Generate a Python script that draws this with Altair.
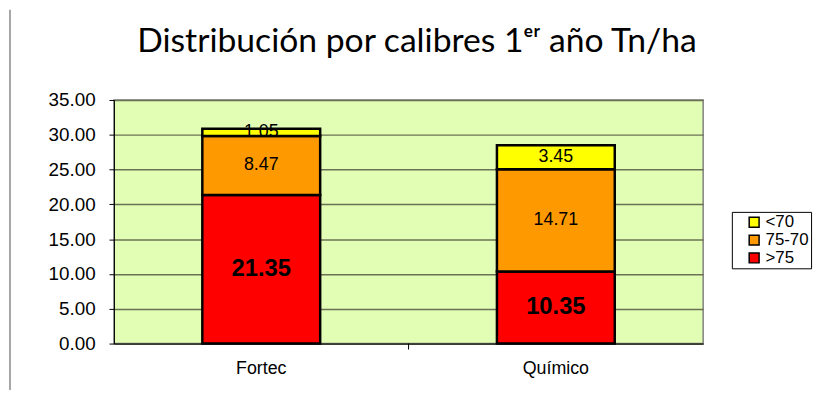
import altair as alt
import pandas as pd

categories = ["Fortec", "Químico"]
classes = [">75", "75-70", "<70"]
values_fortec = [21.35, 8.47, 1.05]
values_quimico = [10.35, 14.71, 3.45]
legend_order = ["<70", "75-70", ">75"]
colors = ["#FFFF00", "#FF9900", "#FF0000"]
y_ticks = [0, 5, 10, 15, 20, 25, 30, 35]
title_text = "Distribución por calibres 1ᵉʳ año Tn/ha"

rows = []
for cat, vals in zip(categories, [values_fortec, values_quimico]):
    for i, (cl, v) in enumerate(zip(classes, vals)):
        rows.append({"cat": cat, "cls": cl, "value": v, "ord": i})
df = pd.DataFrame(rows)

base = alt.Chart(df).transform_stack(
    stack="value", groupby=["cat"], as_=["y0", "y1"], sort=[alt.SortField("ord")]
).transform_calculate(mid="(datum.y0 + datum.y1) / 2")

x_axis = alt.Axis(labelAngle=0, ticks=False, labelFont="Liberation Sans",
                  labelFontSize=18, labelColor="#000000", labelPadding=16,
                  domainColor="#000000", domainWidth=1, title=None)
x_scale = alt.Scale(paddingInner=0.6, paddingOuter=0.3)

y_axis = alt.Axis(values=y_ticks, format=".2f", labelFont="Liberation Sans",
                  labelFontSize=19, labelColor="#000000", labelPadding=14,
                  tickSize=5, tickColor="#000000", domainColor="#000000",
                  gridColor="#6A7256", gridWidth=1.5, labelOverlap=False, title=None)
y_scale = alt.Scale(domain=[0, 35], nice=False)

bars = base.mark_bar(stroke="#000000", strokeWidth=2.5).encode(
    x=alt.X("cat:N", sort=categories, scale=x_scale, axis=x_axis),
    y=alt.Y("y0:Q", scale=y_scale, axis=y_axis),
    y2="y1:Q",
    color=alt.Color("cls:N", scale=alt.Scale(domain=legend_order, range=colors),
                    sort=legend_order,
                    legend=alt.Legend(title=None, orient="none", legendX=624, legendY=113,
                                      symbolType="square", symbolSize=100,
                                      symbolStrokeColor="#000000", symbolStrokeWidth=1.5,
                                      labelFont="Liberation Sans", labelFontSize=17,
                                      labelColor="#000000", strokeColor="#000000",
                                      padding=2, rowPadding=0, labelOffset=3,
                                      symbolOffset=12, fillColor="#FFFFFF")),
)

labels_big = base.transform_filter(alt.datum.cls == ">75").mark_text(
    font="Liberation Sans", fontSize=24, fontWeight="bold", color="#000000", baseline="middle"
).encode(x=alt.X("cat:N", sort=categories, scale=x_scale, axis=x_axis),
         y=alt.Y("mid:Q", scale=y_scale, axis=y_axis),
         text=alt.Text("value:Q", format=".2f"))

labels_small = base.transform_filter(alt.datum.cls != ">75").mark_text(
    font="Liberation Sans", fontSize=18, color="#000000", baseline="middle"
).encode(x=alt.X("cat:N", sort=categories, scale=x_scale, axis=x_axis),
         y=alt.Y("mid:Q", scale=y_scale, axis=y_axis),
         text=alt.Text("value:Q", format=".2f"))

one = pd.DataFrame({"a": [0]})

xtick = alt.Chart(one).mark_rule(color="#000000").encode(
    x=alt.value(297.5), y=alt.value(246), y2=alt.value(252))

frame_left = alt.Chart(one).mark_rule(color="#888888", strokeWidth=1.5).encode(
    x=alt.value(-105), y=alt.value(-91), y2=alt.value(300))

title = alt.Chart(one).mark_text(
    text=title_text, font="Lato", fontSize=34, fontWeight="normal", color="#000000",
    align="center", baseline="alphabetic").encode(
    x=alt.value(306), y=alt.value(-48))

chart = alt.layer(frame_left, title, bars, labels_small, labels_big, xtick).properties(
    width=595, height=246,
    autosize=alt.AutoSizeParams(type="none"),
    padding={"left": 107, "top": 91, "right": 117, "bottom": 45},
    background="#FFFFFF",
).configure_view(stroke="#808080", strokeWidth=1.5, fill="#E2FDB4")

chart.save("out.html", embed_options={"renderer": "svg", "actions": False})
